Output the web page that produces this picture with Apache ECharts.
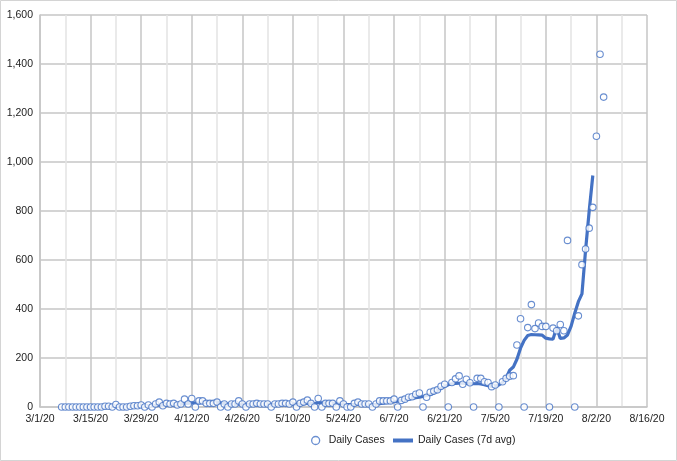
<!DOCTYPE html>
<html>
<head>
<meta charset="utf-8">
<script src="https://cdn.jsdelivr.net/npm/echarts@6/dist/echarts.min.js"></script>
<style>
html,body{margin:0;padding:0;background:#fff;}
#chart{width:677px;height:461px;}
</style>
</head>
<body>
<div id="chart"></div>
<script>
// Day 0 = 3/1/20
const startYear = 2020, startMonth = 2, startDay = 1;
const xTickDays = [0, 14, 28, 42, 56, 70, 84, 98, 112, 126, 140, 154, 168];
const yTicks = [0, 200, 400, 600, 800, 1000, 1200, 1400, 1600];

// Daily cases, first point on day 6 (3/7/20)
const dailyStartDay = 6;
const dailyCases = [
  0,0,0,0,0,0,0,0,0,0,0,0,3,3,0,            // 6-20
  10,0,0,0,3,5,5,8,0,8,                     // 21-30
  0,12,20,5,15,12,15,8,12,32,               // 31-40
  12,35,0,25,25,15,15,15,20,0,              // 41-50
  12,0,12,12,25,12,0,12,12,15,              // 51-60
  12,12,12,0,12,12,15,15,12,20,             // 61-70
  0,15,20,28,15,0,35,0,15,15,               // 71-80
  15,0,25,12,0,0,15,20,12,12,               // 81-90
  12,0,12,25,25,25,25,32,0,27,              // 91-100
  32,40,42,52,57,0,40,60,65,70,             // 101-110
  85,93,0,100,115,127,93,113,99,0,          // 111-120
  117,117,103,100,83,90,0,103,117,126,      // 121-130
  128,253,360,0,324,418,320,343,329,329,    // 131-140
  0,322,311,337,311,680,null,0,372,581,     // 141-150
  645,730,815,1105,1440,1265                // 151-156
];

// 7-day average, first point on day 12 (3/13/20)
const avgStartDay = 12;
const avgCases = [
  0,0,0,0,0,0,1,1,1,                        // 12-20
  2,2,2,2,2,3,3,4,4,4,                      // 21-30
  4,6,8,8,9,10,11,11,12,15,                 // 31-40
  15,18,16,17,19,20,20,20,20,17,            // 41-50
  15,12,12,12,13,11,11,11,13,12,            // 51-60
  11,11,12,11,11,11,12,12,12,13,            // 61-70
  12,13,14,15,15,13,18,17,17,16,            // 71-80
  16,14,15,12,10,10,10,13,14,10,            // 81-90
  10,10,11,14,16,19,21,22,24,27,            // 91-100
  29,32,35,38,40,43,47,50,57,67,            // 101-110
  76,84,91,95,96,97,97,96,96,95,            // 111-120
  96,94,91,87,84,86,90,100,118,150,         // 121-130
  163,195,240,272,292,296,295,294,293,281,  // 131-140
  278,277,325,280,282,294,330,383,430,462,  // 141-150
  640,800,945                               // 151-153
];

function dayLabel(v){
  const d = new Date(startYear, startMonth, startDay + v);
  return (d.getMonth()+1) + '/' + d.getDate() + '/20';
}

const dailyData = dailyCases.map((v,i)=> v===null ? null : [dailyStartDay+i, v]).filter(p=>p!==null);
const avgData = avgCases.map((v,i)=>[avgStartDay+i, v]);

const blue = '#4472C4';
const grid = '#c6c6c6';
const font = '"Liberation Sans",Arial,sans-serif';

const chart = echarts.init(document.getElementById('chart'), null, {renderer:'canvas'});
chart.setOption({
  animation:false,
  backgroundColor:'#fff',
  graphic:[{type:'rect', shape:{x:0.5,y:0.5,width:676,height:460}, style:{fill:'none', stroke:'#d4d4d4', lineWidth:1}, silent:true}],
  grid:{left:40, right:30, top:15, bottom:54, containLabel:false},
  xAxis:{
    type:'value', min:xTickDays[0], max:xTickDays[xTickDays.length-1], interval:14,
    axisLine:{show:true, lineStyle:{color:grid, width:1.5}},
    axisTick:{show:false},
    axisLabel:{formatter:dayLabel, color:'#222', fontSize:10.5, fontFamily:font, margin:7},
    splitLine:{show:true, lineStyle:{color:grid, width:1.5}},
    minorTick:{show:false, splitNumber:2},
    minorSplitLine:{show:true, lineStyle:{color:'#e3e3e3', width:1.5}}
  },
  yAxis:{
    type:'value', min:yTicks[0], max:yTicks[yTicks.length-1], interval:200,
    axisLine:{show:true, lineStyle:{color:grid, width:1.5}},
    axisTick:{show:false},
    axisLabel:{formatter:v=>v.toLocaleString('en-US'), color:'#222', fontSize:10.5, fontFamily:font, margin:7},
    splitLine:{show:true, lineStyle:{color:grid, width:1.5}}
  },
  legend:[
    {
      left:306, top:430, itemWidth:8, itemHeight:8,
      textStyle:{color:'#222', fontSize:10.5, fontFamily:font, padding:[0,0,0,4]},
      data:[{name:'Daily Cases', icon:'circle', itemStyle:{color:'#fff', borderColor:blue, borderWidth:1.3}}]
    },
    {
      left:388, top:430, itemWidth:20, itemHeight:4,
      textStyle:{color:'#222', fontSize:10.5, fontFamily:font},
      data:[{name:'Daily Cases (7d avg)', icon:'rect', itemStyle:{color:blue}}]
    }
  ],
  series:[
    {
      name:'Daily Cases', type:'scatter', data:dailyData, symbol:'circle', symbolSize:6.5, z:3,
      itemStyle:{color:'#fff', borderColor:blue, borderWidth:1.1}
    },
    {
      name:'Daily Cases (7d avg)', type:'line', data:avgData, showSymbol:false, symbol:'none', z:2,
      lineStyle:{color:blue, width:3.2}, itemStyle:{color:blue}
    }
  ]
});
</script>
</body>
</html>
